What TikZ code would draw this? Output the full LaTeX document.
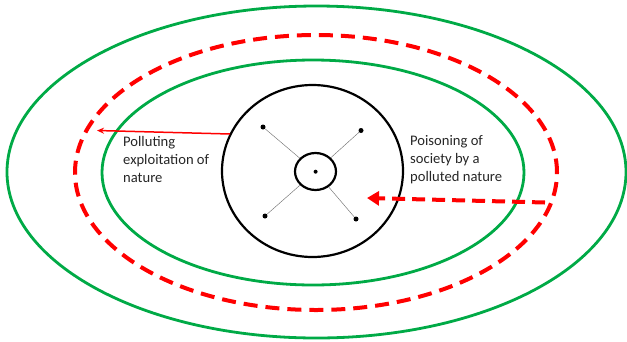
\documentclass[tikz,border=0pt]{standalone}
\usepackage{fontspec}
\setmainfont{Carlito}
\usetikzlibrary{shapes.geometric,arrows.meta}
\definecolor{eco}{RGB}{0,170,70}
\definecolor{pol}{RGB}{255,0,0}
\begin{document}
\begin{tikzpicture}[x=1pt,y=-1pt,
  ring/.style={ellipse,draw,inner sep=0pt,line width=#1},
  greenring/.style={ring=2.8pt,draw=eco},
  dot/.style={circle,fill=black,inner sep=0pt,minimum size=5pt},
  spoke/.style={draw=black!55,line width=0.45pt},
  lbl/.style={align=left,anchor=north west,inner sep=0pt,font=\fontsize{14.6}{18}\selectfont,text=black!85}]
\useasboundingbox (0,0) rectangle (627,341);
\node[greenring,minimum width=619pt,minimum height=332pt] (outer) at (316.5,172) {};
\node[ring=4pt,draw=pol,dash pattern=on 14pt off 8pt,minimum width=482pt,minimum height=275pt] (redring) at (316,172.5) {};
\node[greenring,minimum width=422pt,minimum height=225pt] (inner) at (313,172.5) {};
\node[ring=2.2pt,minimum width=181pt,minimum height=172pt] (society) at (312.5,171) {};
\node[ring=2.2pt,minimum width=41pt,minimum height=37pt] (core) at (315.5,171.5) {};
\node[dot,minimum size=4pt] (c) at (315.6,171.7) {};
\node[dot] (d1) at (263,127) {};
\node[dot] (d2) at (361,130.5) {};
\node[dot] (d3) at (265,216) {};
\node[dot] (d4) at (356,219) {};
\draw[spoke] (d1) -- (core);
\draw[spoke] (d2) -- (core);
\draw[spoke] (d3) -- (core);
\draw[spoke] (d4) -- (core);
\coordinate (a1s) at (230,134);
\coordinate (a1e) at (97,130.5);
\draw[pol,line width=1.5pt,-{Stealth[length=7pt,width=6pt]}] (a1s) -- (a1e);
\coordinate (a2s) at (545,202.5);
\coordinate (a2e) at (367,198);
\draw[pol,line width=4pt,dash pattern=on 13pt off 7pt,-{Triangle[length=12pt,width=14pt]}] (a2s) -- (a2e);
\node[lbl] (t1) at (123,136) {Polluting\\exploitation of\\nature};
\node[lbl] (t2) at (410,135) {Poisoning of\\society by a\\polluted nature};
\end{tikzpicture}
\end{document}
